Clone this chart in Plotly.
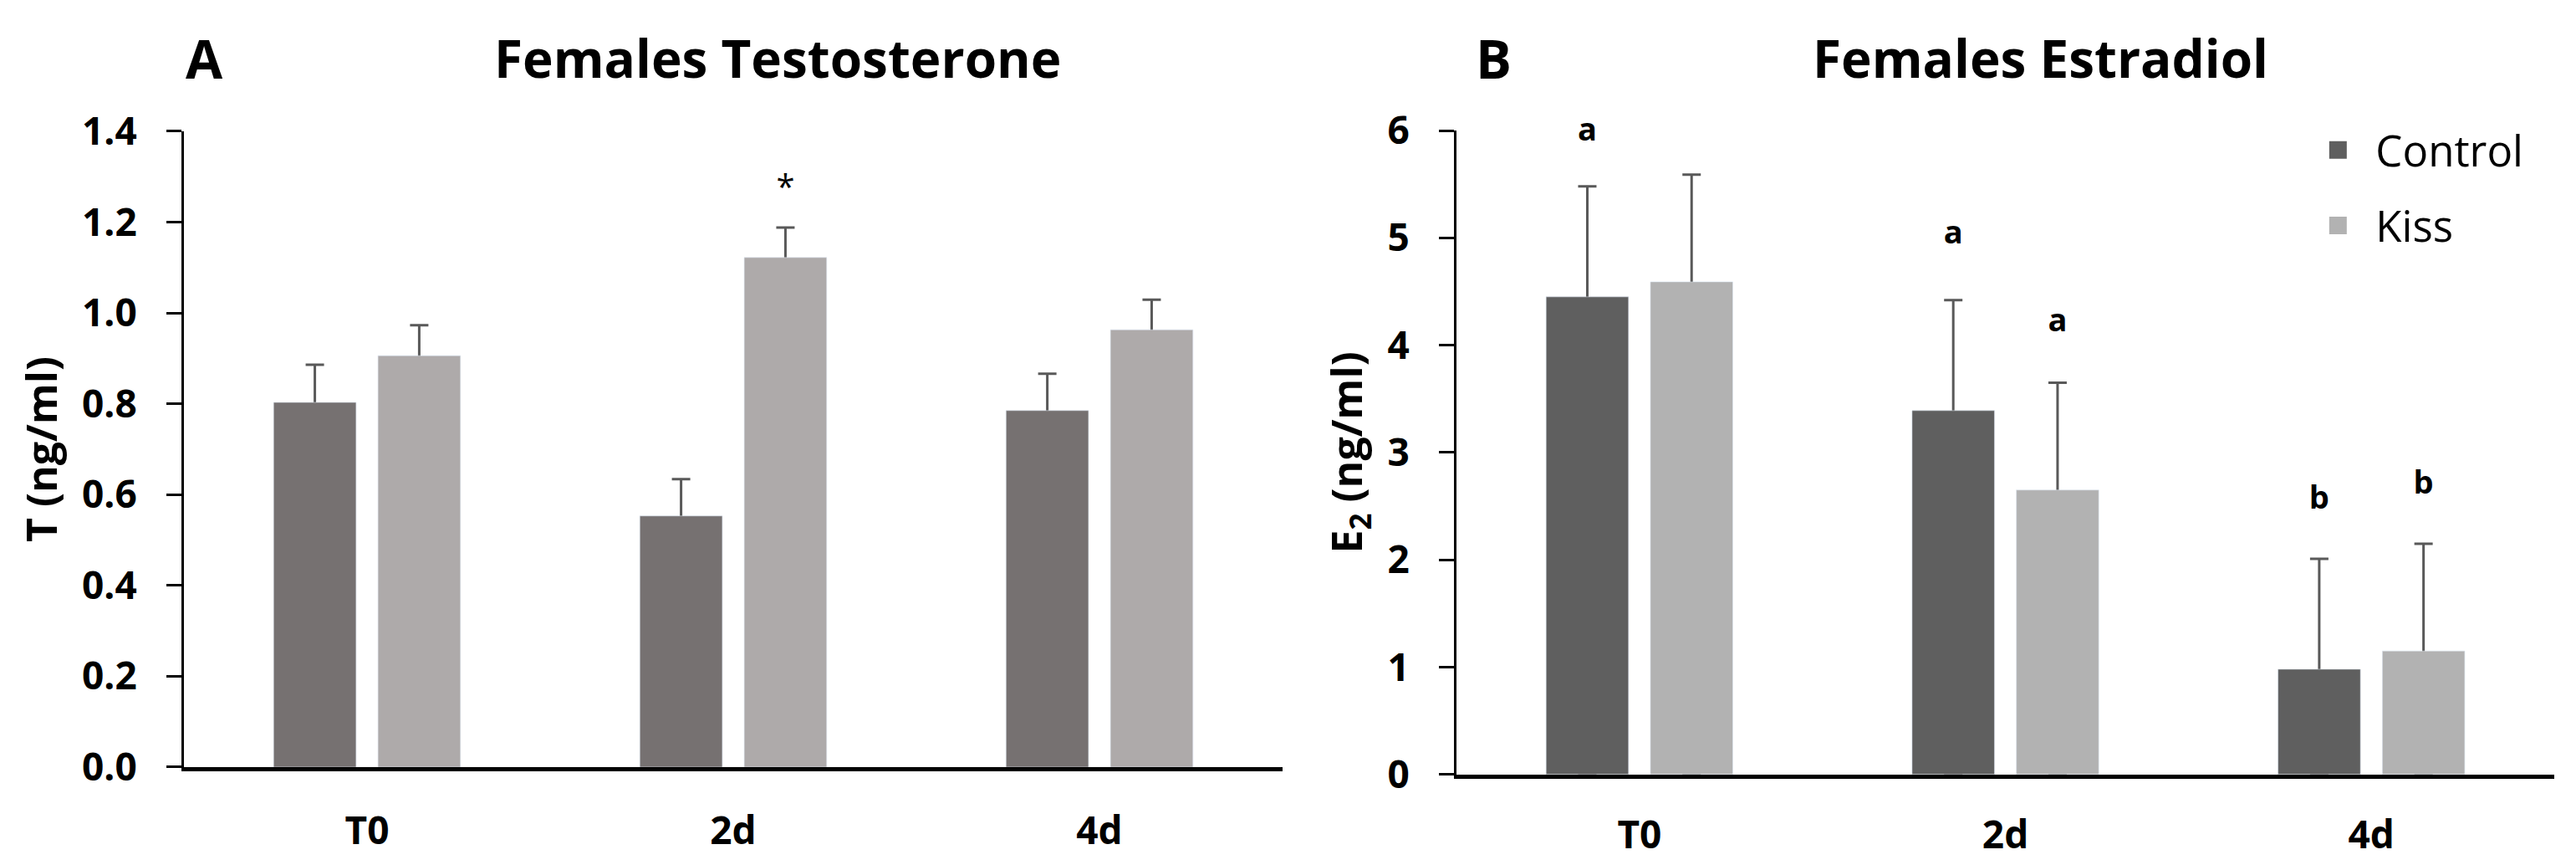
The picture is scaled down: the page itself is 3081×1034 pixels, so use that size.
import plotly.graph_objects as go

days = ["T0", "2d", "4d"]

# panel A - testosterone (ng/ml)
t_control = [0.803, 0.553, 0.785]
t_control_se = [0.083, 0.081, 0.081]
t_kiss = [0.906, 1.122, 0.963]
t_kiss_se = [0.067, 0.066, 0.066]
t_mark_days = ["2d"]
t_mark = ["*"]
t_mark_y = [1.27]
t_ticks = [0.0, 0.2, 0.4, 0.6, 0.8, 1.0, 1.2, 1.4]

# panel B - estradiol (ng/ml)
e_control = [4.45, 3.39, 0.98]
e_control_se = [1.03, 1.03, 1.03]
e_kiss = [4.59, 2.65, 1.15]
e_kiss_se = [1.00, 1.00, 1.00]
e_control_letters = ["a", "a", "b"]
e_control_letter_y = [5.98, 5.02, 2.55]
e_kiss_letters = ["a", "a", "b"]
e_kiss_letter_y = [6.08, 4.2, 2.69]
e_ticks = [0, 1, 2, 3, 4, 5, 6]

FONT = "Open Sans"
A_DARK, A_LIGHT = "#767171", "#aeaaaa"
B_DARK, B_LIGHT = "#5f5f5f", "#b2b2b2"
ERR = "#595959"

fig = go.Figure()

panels = [
    ("x", "y", t_control, t_control_se, t_kiss, t_kiss_se, A_DARK, A_LIGHT),
    ("x2", "y2", e_control, e_control_se, e_kiss, e_kiss_se, B_DARK, B_LIGHT),
]
for xa, ya, ctl, ctl_se, kis, kis_se, dark, light in panels:
    # error bars sit on see-through bars drawn first, so the solid bars hide
    # the lower half and only the whisker above each bar stays visible
    for vals, se, grp in [(ctl, ctl_se, "c"), (kis, kis_se, "k")]:
        fig.add_trace(go.Bar(x=days, y=vals, marker_color="rgba(0,0,0,0)",
                             error_y=dict(type="data", array=se, arrayminus=vals,
                                          symmetric=False, color=ERR, thickness=3, width=11),
                             offsetgroup=grp, showlegend=False, hoverinfo="skip",
                             xaxis=xa, yaxis=ya))
    for vals, col, grp in [(ctl, dark, "c"), (kis, light, "k")]:
        fig.add_trace(go.Bar(x=days, y=vals, marker_color=col, offsetgroup=grp,
                             showlegend=False, xaxis=xa, yaxis=ya))

# significance marks (grouped like the bars)
letter_font = dict(family=FONT, size=38, color="black", weight="bold")
fig.add_trace(go.Scatter(x=days, y=[None, None, None], mode="none",
                         offsetgroup="c", showlegend=False, xaxis="x", yaxis="y"))
fig.add_trace(go.Scatter(x=t_mark_days, y=t_mark_y, mode="text", text=t_mark,
                         textfont=dict(family=FONT, size=40, color="black"),
                         offsetgroup="k", showlegend=False, cliponaxis=False,
                         xaxis="x", yaxis="y"))
fig.add_trace(go.Scatter(x=days, y=e_control_letter_y, mode="text", text=e_control_letters,
                         textfont=letter_font, offsetgroup="c", showlegend=False,
                         cliponaxis=False, xaxis="x2", yaxis="y2"))
fig.add_trace(go.Scatter(x=days, y=e_kiss_letter_y, mode="text", text=e_kiss_letters,
                         textfont=letter_font, offsetgroup="k", showlegend=False,
                         cliponaxis=False, xaxis="x2", yaxis="y2"))

# legend entries
for name, col, grp in [("Control", B_DARK, "c"), ("Kiss", B_LIGHT, "k")]:
    fig.add_trace(go.Scatter(x=[None], y=[None], mode="markers", name=name, legendgroup=name,
                             marker=dict(symbol="square", size=16, color=col,
                                         line=dict(color=col, width=5)),
                             offsetgroup=grp, xaxis="x2", yaxis="y2"))

xax = dict(type="category", range=[-0.5, 2.5], showline=True, linecolor="black", linewidth=5,
           ticks="", showgrid=False, zeroline=False, ticklabelstandoff=32, automargin=False,
           tickfont=dict(family=FONT, size=46, color="black", weight="bold"))
yax = dict(showline=True, linecolor="black", linewidth=3, ticks="outside", ticklen=18,
           tickwidth=3, tickcolor="black", showgrid=False, zeroline=False, automargin=False,
           ticklabelstandoff=26, tickfont=dict(family=FONT, size=46, color="black", weight="bold"))
title_font = dict(family=FONT, size=62, color="black", weight="bold")
ytitle_font = dict(family=FONT, size=50, color="black", weight="bold")

fig.update_layout(
    width=3081, height=1034,
    margin=dict(l=0, r=0, t=0, b=0),
    paper_bgcolor="white", plot_bgcolor="white",
    barmode="group", bargap=0.43, bargroupgap=0.21,
    scattermode="group", scattergap=0.43,
    xaxis=dict(xax, domain=[0.0714, 0.4979], anchor="y"),
    yaxis=dict(yax, domain=[0.1132, 0.8482], anchor="x", range=[0, 1.4],
               tickvals=t_ticks, ticktext=[f"{v:.1f}" for v in t_ticks],
               title=dict(text="T (ng/ml)", standoff=14, font=ytitle_font)),
    xaxis2=dict(xax, domain=[0.5654, 0.9916], anchor="y2", ticklabelstandoff=28),
    yaxis2=dict(yax, domain=[0.1047, 0.8491], anchor="x2", range=[0, 6],
                tickvals=e_ticks,
                title=dict(text="E<sub>2</sub> (ng/ml)", standoff=14, font=ytitle_font)),
    legend=dict(x=0.893, y=0.865, xanchor="left", yanchor="top", tracegroupgap=21,
                itemwidth=80,
                font=dict(family=FONT, size=51, color="black"), bgcolor="rgba(0,0,0,0)"),
    annotations=[
        dict(text="A", x=0.0795, y=0.933, xref="paper", yref="paper", showarrow=False,
             xanchor="center", yanchor="middle", font=dict(title_font, size=64)),
        dict(text="Females Testosterone", x=0.302, y=0.933, xref="paper", yref="paper",
             xanchor="center", yanchor="middle", showarrow=False, font=title_font),
        dict(text="B", x=0.5797, y=0.933, xref="paper", yref="paper", showarrow=False,
             xanchor="center", yanchor="middle", font=dict(title_font, size=64)),
        dict(text="Females Estradiol", x=0.792, y=0.933, xref="paper", yref="paper",
             xanchor="center", yanchor="middle", showarrow=False, font=title_font),
    ],
)

fig.write_html("out.html", config={"displayModeBar": False},
               post_script="document.body.style.margin='0';")
